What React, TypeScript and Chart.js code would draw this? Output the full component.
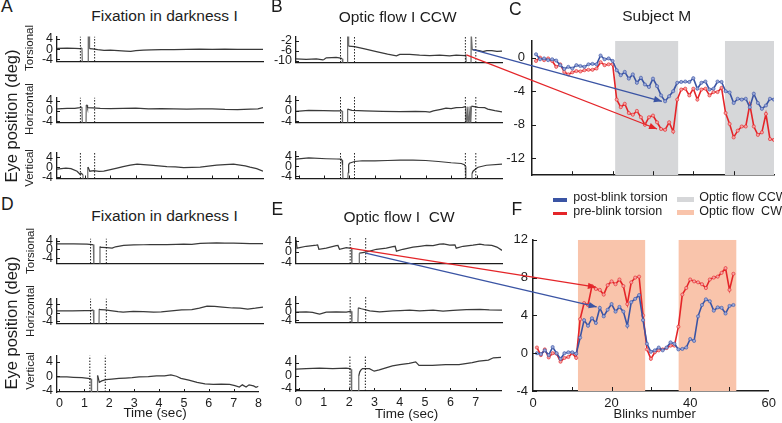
import React, { useEffect, useRef } from 'react';
import { Chart, registerables } from 'chart.js';

Chart.register(...registerables);

type P = [number, number];

// ---------------- Panel C / F : torsion per blink ----------------
const C_POST = [0.4, -0.2, -0.1, -0.3, -0.2, -0.35, -0.9, -1.35, -1.1, -1.3, -0.9, -1.0, -1.1, -0.8, -0.75, -0.8, 0.25, -0.2, -0.1, -0.4,
  -1.5, -2.1, -1.7, -2.5, -2.0, -3.0, -2.4, -3.2, -3.5, -2.5, -3.4, -4.5, -5.2, -4.6, -4.0, -3.0, -2.9, -2.85, -2.9, -2.45,
  -3.7, -3.0, -2.85, -3.8, -3.7, -2.85, -2.9, -4.0, -4.15, -5.4, -4.9, -5.0, -4.9, -5.9, -4.3, -5.4, -6.1, -5.7, -4.9, -5.0];
const C_PRE = [-0.4, 0.0, -0.3, -0.1, -0.4, -1.1, -0.8, -1.7, -2.0, -1.75, -1.6, -1.65, -1.5, -1.45, -1.45, -1.3, -0.55, -0.9, -0.8, -0.8,
  -5.0, -5.9, -5.5, -6.6, -6.8, -6.35, -7.1, -8.0, -7.1, -6.9, -7.7, -8.5, -8.6, -7.7, -8.8, -5.0, -3.8, -3.7, -4.5, -3.7,
  -5.0, -3.8, -3.7, -4.5, -4.1, -4.1, -3.6, -6.6, -7.9, -9.5, -8.7, -8.2, -8.2, -5.6, -8.2, -9.2, -8.9, -6.7, -9.7, -9.8];
const F_POST = [0.0, -0.1, 0.3, -0.2, 0.65, 0.0, -0.6, 0.0, 0.1, 0.1, -0.05, 1.65, 3.5, 2.9, 3.7, 3.2, 4.8, 3.9, 4.6, 5.2,
  4.4, 4.9, 4.4, 2.9, 5.4, 5.75, 6.15, 3.5, 1.0, 0.15, 0.3, 0.6, 0.3, 0.6, 1.15, 1.0, 0.4, 0.45, 0.6, 1.5,
  1.3, 3.9, 5.1, 5.7, 5.5, 4.5, 4.85, 4.8, 4.2, 5.0, 5.1];
const F_PRE = [0.6, -0.2, 0.4, -0.45, 0.0, -0.05, -0.9, -0.5, -0.4, 0.0, -0.5, 3.6, 5.3, 5.1, 7.1, 6.8, 6.7, 6.2, 7.2, 7.6,
  7.3, 7.8, 7.1, 5.2, 7.5, 8.0, 8.1, 4.0, 0.4, -0.6, 0.1, 0.3, 0.4, 0.55, 0.8, 0.8, 2.8, 6.2, 6.9, 7.8,
  7.6, 7.5, 7.3, 6.9, 7.8, 8.0, 8.1, 8.5, 9.0, 6.7, 8.4];
const C_BANDS: P[] = [[20.6, 36.3], [47.8, 60]];
const F_BANDS: P[] = [[11.4, 28.6], [37, 51.8]];
const C_YTICKS = [-12, -8, -4, 0];
const F_YTICKS = [-4, 0, 4, 8, 12];
const BLINK_TICKS = [0, 10, 20, 30, 40, 50, 60];
const BLINK_LABELS = [0, 20, 40, 60];

// ---------------- Eye position traces [time (s), deg] ----------------
const A_TORS: P[] = [[-0.1, 0.3], [0.3, 0.4], [0.6, 0.3], [0.8, 0.2], [0.88, 0.45], [0.9, -7], [1.12, -7], [1.13, 7], [1.17, 7], [1.18, 0.2],
  [1.3, 0.1], [1.5, -0.2], [1.75, -0.5], [2.0, -0.4], [2.3, -0.6], [2.6, -0.8], [2.8, -0.9], [3.0, -0.6], [3.3, -0.4], [3.6, -0.3],
  [4.0, -0.2], [4.5, -0.2], [5.0, -0.1], [5.5, 0], [6.0, -0.1], [6.5, 0], [7.0, -0.1], [7.5, -0.1], [8.0, -0.1]];
const A_HOR: P[] = [[-0.1, 0.8], [0.3, 1.0], [0.6, 1.0], [0.8, 1.3], [0.88, 1.5], [0.9, -7], [1.04, -7], [1.05, 2.3], [1.08, 2.2], [1.1, 1.3],
  [1.3, 1.2], [1.6, 1.0], [2.0, 0.9], [2.5, 1.0], [3.0, 1.1], [3.5, 0.8], [4.0, 0.9], [4.5, 0.8], [5.0, 0.7], [5.5, 0.8],
  [6.0, 0.8], [6.5, 0.6], [7.0, 0.55], [7.5, 0.7], [7.8, 0.8], [8.0, 1.3]];
const A_VER: P[] = [[-0.1, -0.8], [0.25, -0.4], [0.45, -0.6], [0.69, -1.6], [0.8, -2.8], [0.85, -2.4], [0.92, -3], [0.93, -7], [1.1, -7], [1.11, 0],
  [1.13, -0.2], [1.19, -1.6], [1.35, -1.4], [1.55, -1.7], [1.74, -1.6], [2.0, -1.0], [2.26, -0.4], [2.5, 0.2], [2.78, 0.8], [3.05, 1.2],
  [3.3, 1.0], [3.57, 0.8], [3.9, 0.5], [4.22, 0.2], [4.55, 0.1], [4.88, -0.2], [5.2, -0.1], [5.53, 0], [5.85, 0.4], [6.18, 0.8],
  [6.5, 1.0], [6.84, 1.2], [7.1, 0.8], [7.3, 0.5], [7.49, 0], [7.75, -0.6], [8.0, -1.6]];
const B_TORS: P[] = [[-0.1, -9.3], [0.3, -9.5], [0.7, -9.3], [0.96, -9.7], [1.0, -9.6], [1.09, -8.9], [1.3, -8.8], [1.48, -8.7], [1.6, -8.9], [1.68, -9.1],
  [1.72, -9.3], [1.74, -13], [1.92, -13], [1.93, 1], [1.96, 1], [1.97, -4.2], [2.2, -4.4], [2.6, -5.3], [3.06, -6.4], [3.5, -7.4],
  [3.85, -8.1], [3.98, -7.5], [4.37, -7.5], [4.76, -7.8], [5.16, -8.0], [5.55, -7.8], [5.94, -8.1], [6.2, -7.8], [6.54, -8.0], [6.58, -7.7],
  [6.6, -13], [6.78, -13], [6.79, 1], [6.82, 1], [6.83, -5.6], [7.1, -6.0], [7.25, -6.4], [7.4, -6.0], [7.6, -6.0], [7.8, -6.3], [8.0, -6.2]];
const B_HOR: P[] = [[-0.1, -0.15], [0.4, 0.2], [1.0, 0.1], [1.4, 0.05], [1.68, 0], [1.72, 0], [1.73, -7], [1.92, -7], [1.93, 0.75], [1.96, 0.6],
  [2.1, 0.2], [2.6, 0], [3.3, -0.15], [3.98, -0.3], [4.6, -0.15], [5.0, -0.3], [5.16, -0.5], [5.3, 0], [5.6, 0.6], [5.8, 1.0],
  [6.0, 0.9], [6.2, 1.2], [6.45, 1.35], [6.57, 1.6], [6.58, -7], [6.66, 1.6], [6.67, -7], [6.75, 1.7], [6.76, -7], [6.8, 1.8],
  [7.06, 1.3], [7.32, 1.2], [7.44, 0.7], [7.72, 0.1], [8.0, -0.4]];
const B_VER: P[] = [[-0.1, 2.85], [0.4, 3.3], [1.09, 3.0], [1.5, 2.9], [1.68, 2.85], [1.71, 2.4], [1.73, 0.5], [1.75, -7], [1.93, -7], [1.95, -2.5],
  [1.97, 0.5], [2.0, 1.2], [2.2, 1.9], [2.5, 2.2], [3.0, 2.2], [3.5, 2.3], [4.0, 2.45], [4.5, 2.45], [5.0, 2.3], [5.5, 1.9],
  [6.0, 1.4], [6.4, 1.1], [6.52, 0.6], [6.56, 0], [6.58, -7], [6.8, -7], [6.82, -3], [6.86, -2.0], [7.0, -0.8], [7.06, -0.4],
  [7.39, 0.4], [8.0, 0.9]];
const D_TORS: P[] = [[-0.1, 2.5], [0.56, 2.5], [1.08, 2.4], [1.28, 2.2], [1.33, 2.2], [1.35, -8], [1.58, -8], [1.59, 1.3], [1.62, 0.9], [1.67, 0.9],
  [1.85, 0.8], [2.07, 0.6], [2.2, 1.2], [2.52, 1.8], [2.92, 2.0], [3.3, 2.1], [3.57, 2.2], [4.0, 2.2], [4.22, 2.2], [4.6, 2.3],
  [4.88, 2.4], [5.2, 2.3], [5.53, 2.7], [5.85, 2.8], [6.18, 2.9], [6.5, 2.8], [6.84, 2.8], [7.2, 2.7], [7.49, 2.6], [8.0, 2.6]];
const D_HOR: P[] = [[-0.1, 0.8], [0.5, 0.8], [1.0, 0.9], [1.25, 0.9], [1.3, 1.1], [1.33, 1.2], [1.35, -7], [1.55, -7], [1.56, 1.6], [1.6, 1.3],
  [1.8, 1.2], [2.0, 0.9], [2.3, 0.4], [2.5, 0.2], [2.9, 0.5], [3.3, 0.4], [3.7, 0.2], [4.0, 0.3], [4.4, 0.8], [4.8, 1.2],
  [5.2, 1.4], [5.5, 2.0], [5.8, 3.0], [6.1, 2.8], [6.4, 2.5], [6.8, 2.1], [7.1, 2.0], [7.4, 1.6], [7.7, 2.0], [8.0, 2.5]];
const D_VER: P[] = [[-0.1, -0.2], [0.3, -0.2], [0.56, -0.3], [0.9, -0.4], [1.15, -0.6], [1.27, -0.7], [1.29, -7], [1.52, -7], [1.53, 0.2], [1.56, -0.5],
  [1.6, -1.7], [1.7, -1.3], [1.87, -0.95], [2.1, -0.8], [2.39, -0.6], [2.65, -0.5], [2.92, -0.4], [3.2, -0.2], [3.57, -0.1], [3.9, 0.1],
  [4.22, 0.1], [4.48, 0.35], [4.7, 0], [4.88, -0.6], [5.2, -1.1], [5.53, -1.7], [5.85, -2.1], [6.18, -2.3], [6.5, -2.2], [6.84, -2.3],
  [7.05, -2.6], [7.23, -3.0], [7.35, -2.4], [7.5, -3.0], [7.62, -2.4], [7.8, -2.7], [7.9, -3.1], [8.0, -2.8]];
const E_TORS: P[] = [[-0.1, 4.4], [-0.06, 1.4], [0.3, 2.1], [0.7, 2.5], [0.75, 2.6], [0.8, 1.0], [1.09, 1.4], [1.48, 2.3], [1.55, 2.4], [1.61, 1.0],
  [1.88, 1.6], [2.0, 1.4], [2.08, 1.5], [2.1, -7], [2.38, -7], [2.39, -0.45], [2.53, -0.2], [2.8, 0.3], [3.06, 1.0], [3.45, 1.4],
  [3.71, 2.0], [3.8, 2.1], [3.85, 0.3], [4.1, 1.0], [4.5, 1.8], [4.76, 2.1], [5.03, 2.4], [5.29, 2.3], [5.55, 2.9], [5.7, 3.0],
  [5.94, 2.5], [6.15, 2.6], [6.2, 1.4], [6.47, 2.1], [6.86, 2.5], [7.13, 2.9], [7.3, 2.6], [7.6, 2.4], [7.8, 1.8], [8.0, 0.6]];
const E_HOR: P[] = [[-0.1, -0.15], [0.3, 0], [0.55, -0.3], [0.7, -0.7], [0.83, -1.1], [1.09, -0.15], [1.48, 0], [1.88, -0.15], [2.03, 0.25], [2.08, 0.3],
  [2.1, -7], [2.33, -7], [2.35, 1.9], [2.47, 1.45], [2.8, 0.5], [3.19, 0], [3.71, 0.5], [4.0, 0.6], [4.37, 0.8], [4.76, 0.5],
  [5.29, 0.8], [5.68, 0.3], [6.08, 0.7], [6.6, 1.0], [7.13, 1.2], [7.5, 0.9], [8.0, 0.8]];
const E_VER: P[] = [[-0.1, 2.0], [0.3, 2.2], [0.83, 2.35], [1.35, 2.2], [1.88, 2.35], [2.03, 2.2], [2.08, 2.0], [2.1, -7], [2.36, -7], [2.38, 0],
  [2.42, 1.2], [2.47, 1.8], [2.53, 2.2], [2.8, 2.2], [2.99, 1.4], [3.19, 1.8], [3.45, 2.4], [3.71, 3.0], [4.0, 3.4], [4.37, 3.8],
  [4.63, 4.25], [4.76, 3.2], [5.29, 3.2], [5.81, 3.4], [6.34, 3.4], [6.86, 4.0], [7.13, 4.5], [7.5, 4.8], [7.7, 5.5], [8.0, 5.6]];

// blink window markers (dotted lines), seconds
const A_DOTS = [0.82, 1.38];
const B_DOTS = [1.65, 2.2, 6.56, 6.97];
const D_DOTS = [1.22, 1.84];
const E_DOTS = [2.03, 2.64];

const TIME_TICKS = [0, 1, 2, 3, 4, 5, 6, 7, 8];
const D_TIME_LABELS = [0, 1, 2, 3, 4, 5, 6, 7, 8];
const E_TIME_LABELS = [0, 1, 2, 3, 4, 5, 6, 7];
const POS_TICKS = [-4, 0, 4];
const B_TORS_TICKS = [-10, -6, -2];

// arrows: source point (panel, time, deg) -> target point (panel, blink, deg)
const ARROW_SRC: [string, number, number][] = [['B_tors', 6.6, -7.7], ['B_tors', 6.86, -5.65], ['E_tors', 2.03, 1.4], ['E_tors', 2.64, -0.45]];
const ARROW_DST: [string, number, number][] = [['C', 31, -8.5], ['C', 32.2, -5.2], ['F', 16, 7.0], ['F', 16.2, 4.9]];
const ARROW_KIND = ['pre', 'post', 'pre', 'post'];

// ---------------- styles / layout ----------------
const FONT = "'Liberation Sans', Arial, Helvetica, sans-serif";
const INK = '#1c1c1c';
const TRACE = '#3a3a3a';
const BLINK = '#6e6e6e';
const BLUE = '#3a54a4';
const RED = '#e42529';
const BLUE_PT = '#9aa8d8';
const RED_PT = '#f5a3a3';
const GRAY = '#d6d7d9';
const PEACH = '#f9c4ab';
const XMIN = -0.1;
const XMAX = 8;
const SP = { l: 40, r: 3, t: 3, b: 3, bLab: 22 };
const BP = { l: 40, r: 6, t: 6, b: 4, bLab: 24 };
const SMALL_TICK = 12.5;
const BIG_TICK = 13;

const SUBS = [
  { key: 'A_tors', left: 57, top: 28, w: 206, h: 42, y: [-4.87, 5.0], yt: POS_TICKS, trace: A_TORS, dots: A_DOTS },
  { key: 'A_hor', left: 57, top: 89, w: 206, h: 42, y: [-4.45, 5.2], yt: POS_TICKS, trace: A_HOR, dots: A_DOTS },
  { key: 'A_ver', left: 57, top: 144, w: 206, h: 43, y: [-4.5, 5.85], yt: POS_TICKS, trace: A_VER, dots: A_DOTS, marks: true },
  { key: 'B_tors', left: 296, top: 28, w: 206, h: 43, y: [-10.8, -0.3], yt: B_TORS_TICKS, trace: B_TORS, dots: B_DOTS },
  { key: 'B_hor', left: 296, top: 88, w: 206, h: 43, y: [-4.4, 5.45], yt: POS_TICKS, trace: B_HOR, dots: B_DOTS },
  { key: 'B_ver', left: 296, top: 143, w: 206, h: 44, y: [-4.9, 5.9], yt: POS_TICKS, trace: B_VER, dots: B_DOTS, marks: true },
  { key: 'D_tors', left: 57, top: 230, w: 206, h: 42, y: [-6.3, 4.9], yt: POS_TICKS, trace: D_TORS, dots: D_DOTS },
  { key: 'D_hor', left: 57, top: 290, w: 206, h: 42, y: [-5.0, 6.45], yt: POS_TICKS, trace: D_HOR, dots: D_DOTS },
  { key: 'D_ver', left: 57, top: 347, w: 206, h: 45, y: [-4.4, 5.8], yt: POS_TICKS, trace: D_VER, dots: D_DOTS, marks: true, labels: D_TIME_LABELS },
  { key: 'E_tors', left: 296, top: 229, w: 206, h: 43, y: [-4.2, 5.3], yt: POS_TICKS, trace: E_TORS, dots: E_DOTS },
  { key: 'E_hor', left: 296, top: 288, w: 206, h: 43, y: [-5.0, 7.2], yt: POS_TICKS, trace: E_HOR, dots: E_DOTS },
  { key: 'E_ver', left: 296, top: 347, w: 206, h: 44, y: [-4.65, 6.2], yt: POS_TICKS, trace: E_VER, dots: E_DOTS, marks: true, labels: E_TIME_LABELS },
];

const BIGS = [
  { key: 'C', left: 532, top: 32, w: 242, h: 154, y: [-14, 2], yt: C_YTICKS, post: C_POST, pre: C_PRE, bands: C_BANDS, band: GRAY, labels: null as number[] | null, tickPad: 7 },
  { key: 'F', left: 533, top: 233, w: 242, h: 158, y: [-4, 12], yt: F_YTICKS, post: F_POST, pre: F_PRE, bands: F_BANDS, band: PEACH, labels: BLINK_LABELS, tickPad: 5 },
];

const inTicks = {
  id: 'inTicks',
  afterDraw(chart: any, _a: any, o: any) {
    if (!o || (!o.x && !o.y)) return;
    const { ctx, chartArea: a, scales } = chart;
    const len = o.len || 3;
    ctx.save();
    ctx.strokeStyle = INK;
    ctx.lineWidth = 1;
    ctx.beginPath();
    if (o.x) {
      for (const t of scales.x.ticks) {
        const p = Math.round(scales.x.getPixelForValue(t.value)) + 0.5;
        if (p <= a.left + 1.5 || p >= a.right - 1.5) continue;
        ctx.moveTo(p, a.bottom);
        ctx.lineTo(p, a.bottom - len);
      }
    }
    if (o.y) {
      for (const t of scales.y.ticks) {
        const p = Math.round(scales.y.getPixelForValue(t.value)) + 0.5;
        ctx.moveTo(a.left, p);
        ctx.lineTo(a.left + len, p);
      }
    }
    ctx.stroke();
    ctx.restore();
  },
};

const arrowHeads = {
  id: 'arrowHeads',
  afterDatasetsDraw(chart: any) {
    const { ctx } = chart;
    chart.data.datasets.forEach((ds: any, i: number) => {
      const pts = chart.getDatasetMeta(i).data;
      if (pts.length < 2) return;
      const a = pts[pts.length - 2];
      const b = pts[pts.length - 1];
      const ang = Math.atan2(b.y - a.y, b.x - a.x);
      const L = 8;
      const W = 3.2;
      const c = Math.cos(ang);
      const s = Math.sin(ang);
      ctx.save();
      ctx.fillStyle = ds.borderColor;
      ctx.beginPath();
      ctx.moveTo(b.x, b.y);
      ctx.lineTo(b.x - L * c + W * s, b.y - L * s - W * c);
      ctx.lineTo(b.x - L * c - W * s, b.y - L * s + W * c);
      ctx.closePath();
      ctx.fill();
      ctx.restore();
    });
  },
};

const tickFont = (size: number) => ({ family: FONT, size });

function smallPadB(s: any) {
  return s.labels ? SP.bLab : SP.b;
}

function smallConfig(s: any): any {
  const padB = smallPadB(s);
  const out = (v: number) => v < s.y[0] || v > s.y[1];
  return {
    type: 'line',
    data: {
      datasets: [
        {
          data: s.trace.map(([x, y]: P) => ({ x, y })), borderColor: TRACE, borderWidth: 1.25, pointRadius: 0, tension: 0, order: 1,
          segment: { borderColor: (c: any) => (out(c.p0.parsed.y) || out(c.p1.parsed.y) ? BLINK : undefined) },
        },
        ...s.dots.map((t: number) => ({
          data: [{ x: t, y: s.y[0] }, { x: t, y: s.y[1] }],
          borderColor: '#111', borderWidth: 1, borderDash: [1.4, 1.6], pointRadius: 0, order: 0,
        })),
      ],
    },
    options: {
      responsive: true,
      maintainAspectRatio: false,
      animation: false,
      events: [],
      layout: { padding: { top: SP.t, right: SP.r, left: 0, bottom: 0 } },
      plugins: { legend: { display: false }, tooltip: { enabled: false }, inTicks: { x: !!s.marks, y: true, len: 3 } },
      scales: {
        x: {
          type: 'linear', min: XMIN, max: XMAX,
          afterFit: (sc: any) => { sc.height = padB; },
          afterBuildTicks: (sc: any) => { sc.ticks = TIME_TICKS.map((v) => ({ value: v })); },
          ticks: {
            display: !!s.labels, font: tickFont(SMALL_TICK), color: INK, padding: 4, maxRotation: 0, autoSkip: false,
            callback: (v: number) => (s.labels && s.labels.includes(v) ? String(v) : ''),
          },
          grid: { display: false, drawTicks: false },
          border: { display: true, color: INK, width: 1.3 },
        },
        y: {
          type: 'linear', min: s.y[0], max: s.y[1],
          afterFit: (sc: any) => { sc.width = SP.l; },
          afterBuildTicks: (sc: any) => { sc.ticks = s.yt.map((v: number) => ({ value: v })); },
          ticks: { font: tickFont(SMALL_TICK), color: INK, padding: 4, autoSkip: false },
          grid: { display: false, drawTicks: false },
          border: { display: true, color: INK, width: 1.3 },
        },
      },
    },
    plugins: [inTicks],
  };
}

function bigPadB(b: any) {
  return b.labels ? BP.bLab : BP.b;
}

function bigConfig(b: any): any {
  const padB = bigPadB(b);
  const series = [
    { values: b.post, color: BLUE, pt: BLUE_PT },
    { values: b.pre, color: RED, pt: RED_PT },
  ];
  return {
    type: 'line',
    data: {
      datasets: [
        ...series.map((s) => ({
          data: s.values.map((v: number, i: number) => ({ x: i + 1, y: v })),
          borderColor: s.color, backgroundColor: s.pt, borderWidth: 1.6, tension: 0,
          pointRadius: 1.6, pointBackgroundColor: s.pt, pointBorderColor: s.color, pointBorderWidth: 0.6, order: 1, fill: false,
        })),
        ...b.bands.map(([x0, x1]: P) => ({
          data: [{ x: x0, y: b.y[1] }, { x: x1, y: b.y[1] }],
          fill: 'start', backgroundColor: b.band, borderWidth: 0, pointRadius: 0, order: 5,
        })),
      ],
    },
    options: {
      responsive: true,
      maintainAspectRatio: false,
      animation: false,
      events: [],
      layout: { padding: { top: BP.t, right: BP.r, left: 0, bottom: 0 } },
      plugins: { legend: { display: false }, tooltip: { enabled: false }, inTicks: { x: true, y: true, len: 4 } },
      scales: {
        x: {
          type: 'linear', min: 0, max: 60,
          afterFit: (sc: any) => { sc.height = padB; },
          afterBuildTicks: (sc: any) => { sc.ticks = BLINK_TICKS.map((v) => ({ value: v })); },
          ticks: {
            display: !!b.labels, font: tickFont(BIG_TICK), color: INK, padding: 5, maxRotation: 0, autoSkip: false,
            callback: (v: number) => (b.labels && b.labels.includes(v) ? String(v) : ''),
          },
          grid: { display: false, drawTicks: false },
          border: { display: true, color: INK, width: 1.5 },
        },
        y: {
          type: 'linear', min: b.y[0], max: b.y[1],
          afterFit: (sc: any) => { sc.width = BP.l; },
          afterBuildTicks: (sc: any) => { sc.ticks = b.yt.map((v: number) => ({ value: v })); },
          ticks: { font: tickFont(BIG_TICK), color: INK, padding: b.tickPad, autoSkip: false },
          grid: { display: false, drawTicks: false },
          border: { display: true, color: INK, width: 1.5 },
        },
      },
    },
    plugins: [inTicks],
  };
}

const Txt = ({ x, y, s, a = 'start', children }: any) => {
  const style: any = {
    position: 'absolute', top: y - 0.8465 * s, left: x, fontSize: s, lineHeight: 1,
    whiteSpace: 'pre', width: 'max-content', color: INK,
  };
  if (a === 'middle') style.transform = 'translateX(-50%)';
  return <div style={style}>{children}</div>;
};

const VTxt = ({ cx, cy, s, children }: any) => (
  <div
    style={{
      position: 'absolute', left: cx, top: cy, fontSize: s, lineHeight: 1, whiteSpace: 'pre', width: 'max-content',
      color: INK, transform: 'translate(-50%, -50%) rotate(-90deg)',
    }}
  >
    {children}
  </div>
);

const Swatch = ({ x, y, w, h, c }: any) => (
  <div style={{ position: 'absolute', left: x, top: y, width: w, height: h, background: c }} />
);

export default function App() {
  const rootRef = useRef<HTMLDivElement>(null);

  useEffect(() => {
    const root = rootRef.current as HTMLDivElement;
    const canvasFor = (k: string) => root.querySelector(`canvas[data-k="${k}"]`) as HTMLCanvasElement;
    const charts: Record<string, any> = {};
    const origin: Record<string, [number, number]> = {};
    for (const s of SUBS) {
      charts[s.key] = new Chart(canvasFor(s.key), smallConfig(s));
      origin[s.key] = [s.left - SP.l, s.top - SP.t];
    }
    for (const b of BIGS) {
      charts[b.key] = new Chart(canvasFor(b.key), bigConfig(b));
      origin[b.key] = [b.left - BP.l, b.top - BP.t];
    }
    const toPage = ([k, x, y]: [string, number, number]) => {
      const c = charts[k];
      const [ox, oy] = origin[k];
      return { x: ox + c.scales.x.getPixelForValue(x), y: oy + c.scales.y.getPixelForValue(y) };
    };
    const overlay = new Chart(canvasFor('overlay'), {
      type: 'line',
      data: {
        datasets: ARROW_SRC.map((src, i) => ({
          data: [toPage(src), toPage(ARROW_DST[i])],
          borderColor: ARROW_KIND[i] === 'pre' ? RED : BLUE,
          borderWidth: 1.3, pointRadius: 0, tension: 0,
        })),
      },
      options: {
        responsive: true,
        maintainAspectRatio: false,
        animation: false,
        events: [],
        layout: { padding: 0 },
        plugins: { legend: { display: false }, tooltip: { enabled: false } },
        scales: {
          x: { type: 'linear', min: 0, max: 782, display: false },
          y: { type: 'linear', min: 0, max: 423, reverse: true, display: false },
        },
      },
      plugins: [arrowHeads],
    } as any);
    return () => {
      overlay.destroy();
      Object.values(charts).forEach((c) => c.destroy());
    };
  }, []);

  return (
    <div
      ref={rootRef}
      style={{ position: 'absolute', left: 0, top: 0, width: 782, height: 423, overflow: 'hidden', background: '#fff', fontFamily: FONT }}
    >
      {SUBS.map((s) => (
        <div
          key={s.key}
          style={{ position: 'absolute', left: s.left - SP.l, top: s.top - SP.t, width: SP.l + s.w + SP.r, height: SP.t + s.h + smallPadB(s) }}
        >
          <canvas data-k={s.key} />
        </div>
      ))}
      {BIGS.map((b) => (
        <div
          key={b.key}
          style={{ position: 'absolute', left: b.left - BP.l, top: b.top - BP.t, width: BP.l + b.w + BP.r, height: BP.t + b.h + bigPadB(b) }}
        >
          <canvas data-k={b.key} />
        </div>
      ))}

      {/* panel letters */}
      <Txt x={1} y={12.5} s={17.5}>A</Txt>
      <Txt x={271} y={12.5} s={17.5}>B</Txt>
      <Txt x={509} y={15.5} s={17.5}>C</Txt>
      <Txt x={1} y={210.5} s={17.5}>D</Txt>
      <Txt x={271.5} y={215.5} s={17.5}>E</Txt>
      <Txt x={511.5} y={215.5} s={17.5}>F</Txt>

      {/* titles */}
      <Txt x={164.5} y={20.7} s={15.5} a="middle">Fixation in darkness I</Txt>
      <Txt x={397.7} y={21.7} s={15.5} a="middle">Optic flow I CCW</Txt>
      <Txt x={656.7} y={20.7} s={15.5} a="middle">Subject M</Txt>
      <Txt x={164.5} y={220.7} s={15.5} a="middle">Fixation in darkness I</Txt>
      <Txt x={399} y={221.7} s={15.5} a="middle">Optic flow I  CW</Txt>

      {/* axis labels */}
      <VTxt cx={30} cy={48} s={11.5}>Torsional</VTxt>
      <VTxt cx={30} cy={109} s={11.5}>Horizontal</VTxt>
      <VTxt cx={30} cy={168} s={11.5}>Vertical</VTxt>
      <VTxt cx={31} cy={250.5} s={11.5}>Torsional</VTxt>
      <VTxt cx={31} cy={310.5} s={11.5}>Horizontal</VTxt>
      <VTxt cx={31} cy={371} s={11.5}>Vertical</VTxt>
      <VTxt cx={11} cy={115.8} s={16.5}>Eye position (deg)</VTxt>
      <VTxt cx={11} cy={322.5} s={16.5}>Eye position (deg)</VTxt>
      <Txt x={155} y={417} s={13.5} a="middle">Time (sec)</Txt>
      <Txt x={406.7} y={418} s={13.5} a="middle">Time (sec)</Txt>
      <Txt x={654.7} y={418} s={13} a="middle">Blinks number</Txt>

      {/* legend */}
      <Swatch x={553} y={198} w={14} h={3.5} c={BLUE} />
      <Swatch x={553} y={211.5} w={14} h={3.5} c={RED} />
      <Swatch x={677} y={196.5} w={17} h={5} c={GRAY} />
      <Swatch x={677} y={210} w={17} h={5} c={PEACH} />
      <Txt x={573.3} y={202} s={12.5}>post-blink torsion</Txt>
      <Txt x={573.3} y={215.5} s={12.5}>pre-blink torsion</Txt>
      <Txt x={699.3} y={202} s={12.5}>Optic flow CCW</Txt>
      <Txt x={699.3} y={215.5} s={12.5}>Optic flow  CW</Txt>

      <div style={{ position: 'absolute', left: 0, top: 0, width: 782, height: 423, pointerEvents: 'none', zIndex: 5 }}>
        <canvas data-k="overlay" />
      </div>
    </div>
  );
}
